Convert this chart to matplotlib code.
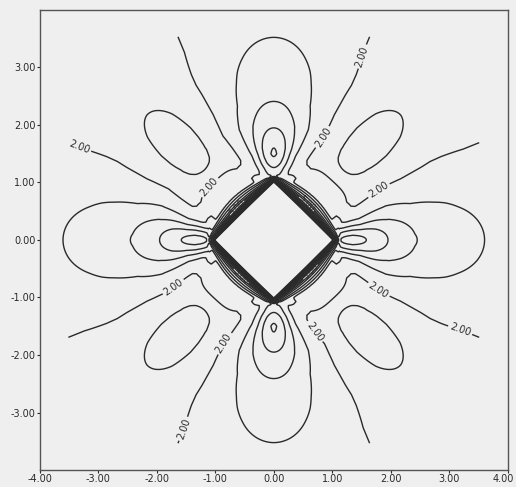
import numpy as np
import matplotlib
matplotlib.use("Agg")
import matplotlib.pyplot as plt
from matplotlib.transforms import ScaledTranslation

# ---- contour levels ----
levels = [1.5, 2.5, 3.0, 3.5, 4.0, 4.5, 5.5, 6.0, 6.5, 7.0, 7.5, 8.0, 8.5, 9.0, 9.5, 10.0]
label_level = [2.0]
band_label_level = [5.0]
far_value = 2.0

# ---- steep band hugging the square's edges: value vs scaled distance ----
core_dist = [0.0, 0.05, 0.10, 0.15, 0.18, 0.22, 0.26, 0.30, 0.33, 10.0]
core_vals = [8.3, 5.2, 3.4, 2.1, 1.55, 1.05, 0.55, 0.05, 0.0, 0.0]
# ---- gentle outer band (lens shaped) ----
outer_dist = [0.0, 0.3, 0.55, 0.7, 0.91, 1.2, 1.6, 10.0]
outer_vals = [0.5, 0.47, 0.45, 0.35, 0.1, 0.03, 0.0, 0.0]

# ---- lobe amplitudes vs radius ----
radius = [0.7, 1.0, 1.05, 1.1, 1.15, 1.2, 1.26, 1.35, 1.45, 1.5, 1.6, 1.75, 1.95, 2.2, 2.41, 2.8, 3.2, 3.6, 4.5, 6.0]
xlobe_amp = [0.0, 0.4, 0.8, 1.35, 2.0, 2.1, 2.15, 2.18, 2.12, 2.08, 1.98, 1.8, 1.5, 1.25, 1.02, 0.82, 0.65, 0.5, 0.35, 0.2]
ylobe_amp = [0.0, 0.3, 0.6, 0.8, 1.2, 1.35, 1.5, 1.8, 2.0, 2.05, 2.0, 1.8, 1.5, 1.22, 1.0, 0.8, 0.63, 0.47, 0.35, 0.2]
diag_amp = [0.0, 0.02, 0.03, 0.05, 0.07, 0.1, 0.14, 0.25, 0.33, 0.38, 0.5, 0.62, 0.7, 0.72, 0.7, 0.6, 0.46, 0.4, 0.28, 0.15]

width_r = [1.0, 1.5, 2.0, 3.0, 4.0]
axis_width = [0.14, 0.15, 0.21, 0.25, 0.27]
diag_width = [0.26, 0.21, 0.185, 0.19, 0.23]
diag_angle_shift = 0.012

domain_radius = 3.9
x_ticks = [-4, -3, -2, -1, 0, 1, 2, 3, 4]
y_ticks = [-3, -2, -1, 0, 1, 2, 3]

# ---- build field ----
n = 801
xs = np.linspace(-4, 4, n)
X, Y = np.meshgrid(xs, xs)
a, b = np.abs(X), np.abs(Y)
R = np.hypot(X, Y)
th = np.arctan2(b, a)  # 0..pi/2
d_axis = np.minimum(th, np.pi / 2 - th)
d_diag = np.abs(th - (np.pi / 4 + diag_angle_shift))

t = np.clip((b - a + 1) / 2, 0, 1)
dist = np.hypot(a - (1 - t), b - t)
bump = 4 * t * (1 - t)
h_core = 0.4 + 0.6 * bump
h_outer = 0.12 + 0.88 * bump
E = np.interp(dist / h_core, core_dist, core_vals) + np.interp(dist / h_outer, outer_dist, outer_vals)

sa = np.interp(R, width_r, axis_width)
sd = np.interp(R, width_r, diag_width)
is_x = a >= b
A = np.where(is_x, np.interp(R, radius, xlobe_amp), np.interp(R, radius, ylobe_amp))
C = np.interp(R, radius, diag_amp)
F = far_value + E + A * np.exp(-0.5 * (d_axis / sa) ** 2) - C * np.exp(-0.5 * (d_diag / sd) ** 2)
mask = (a + b < 1.0) | (R > domain_radius)
F = np.ma.array(F, mask=mask)

# ---- figure ----
bg = "#efefef"
fig = plt.figure(figsize=(5.16, 4.87), dpi=100, facecolor=bg)
ax = fig.add_axes([0.0766, 0.0349, 0.908, 0.9446], facecolor=bg)
line_kw = dict(colors="#2a2a2a", linewidths=1.0)
cs = ax.contour(X, Y, F, levels=levels, **line_kw)
cs2 = ax.contour(X, Y, F, levels=label_level, **line_kw)
cs3 = ax.contour(X, Y, F, levels=band_label_level, **line_kw)
label_pos = [(-3.37, 1.5), (-1.09, 0.91), (1.41, 3.22), (0.85, 1.78), (1.8, 0.86),
             (-1.72, -0.81), (-0.87, -1.78), (-1.43, -3.33), (1.8, -0.86), (3.24, -1.38), (0.76, -1.55)]
ax.clabel(cs2, manual=label_pos, fmt="%.2f", fontsize=7, inline=True, inline_spacing=2)
band_pos = [(-0.65, 0.58), (0.58, 0.65), (-0.58, -0.65), (0.65, -0.58)]
ax.clabel(cs3, manual=band_pos, fmt="%.2f", fontsize=6, inline=True, inline_spacing=1)

ax.set_xlim(-4, 4)
ax.set_ylim(-4, 4)
ax.set_xticks(x_ticks)
ax.set_yticks(y_ticks)
ax.set_xticklabels([f"{v:.2f}" for v in x_ticks])
ax.set_yticklabels([f"{v:.2f}" for v in y_ticks])
ax.tick_params(labelsize=7, colors="#2a2a2a", length=2, width=0.8, pad=1)
last = ax.get_xticklabels()[-1]
last.set_transform(last.get_transform() + ScaledTranslation(-0.05, 0, fig.dpi_scale_trans))
for s in ax.spines.values():
    s.set_color("#555555")
    s.set_linewidth(1.0)
fig.savefig("out.png", dpi=100, facecolor=bg)
